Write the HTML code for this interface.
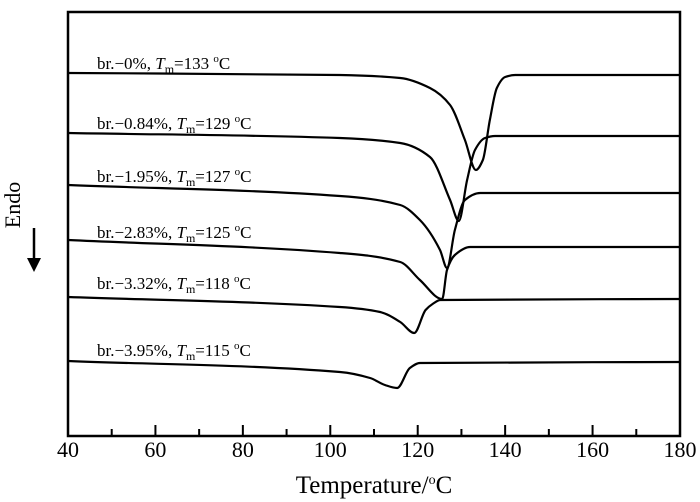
<!DOCTYPE html>
<html><head><meta charset="utf-8"><style>
body{margin:0;background:#fff;}
svg{display:block;font-family:"Liberation Serif",serif;}
</style></head><body>
<svg id="chart" width="700" height="502" viewBox="0 0 700 502">
<rect x="68" y="12" width="612" height="424" fill="none" stroke="#000" stroke-width="2.5"/>
<g id="ticks"></g>
<g id="curves"></g>
<text x="374" y="493" font-size="25" text-anchor="middle">Temperature/<tspan dy="-9" font-size="14">o</tspan><tspan dy="9">C</tspan></text>
<text transform="translate(20,205) rotate(-90)" font-size="22" text-anchor="middle">Endo</text>
<g>
<line x1="34" y1="228" x2="34" y2="262" stroke="#000" stroke-width="2.5"/>
<polygon points="27,258 41,258 34,272" fill="#000"/>
</g>
</svg>
<script>
const xTicks=[40,60,80,100,120,140,160,180];
const minorTicks=[50,70,90,110,130,150,170];
const labels=["br.\u22120%","br.\u22120.84%","br.\u22121.95%","br.\u22122.83%","br.\u22123.32%","br.\u22123.95%"];
const tmValues=[133,129,127,125,118,115];
const T1=[40,102.2,116,122.8,127.4,130.8,133.3,134.9,136.5,138.1,140,142.3,180];
const V1=[36.3,36.1,35.8,34.8,33.1,29.6,26.6,27.6,31.6,34.8,35.9,36.1,36.1];
const T2=[40,102.2,116,122.8,127.4,129.4,131.3,133.1,135.4,137.7,180];
const V2=[30.3,29.8,29.3,27.9,23.6,21.5,25.6,28.6,29.8,30.0,30.0];
const T3=[40,102.2,116,120.5,125.1,126.7,128.5,130.8,134.3,180];
const V3=[25.1,24.0,23.1,21.6,18.6,16.8,20.6,23.6,24.3,24.3];
const T4=[40,102.2,116,120.5,125.6,126.7,128.5,132,180];
const V4=[19.6,18.3,17.4,15.6,13.7,16.6,18.1,18.9,18.9];
const T5=[40,102.2,111.4,116,119.2,121.8,123.4,125.2,180];
const V5=[13.9,12.9,12.4,11.4,10.3,12.6,13.2,13.6,13.7];
const T6=[40,102.2,109.1,112.5,115.3,118.2,120.5,180];
const V6=[7.5,6.4,5.8,5.1,4.8,6.8,7.3,7.4];
const labelLevels=[36.7,30.7,25.4,19.8,14.7,8.0];

const NS="http://www.w3.org/2000/svg";
const xS=t=>68+(t-40)*612/140;
const yS=v=>436-v*10;
const tg=document.getElementById('ticks');
xTicks.forEach(t=>{
  const l=document.createElementNS(NS,'line');
  
  
  l.setAttribute('x1',xS(t));l.setAttribute('x2',xS(t));l.setAttribute('y1',436);l.setAttribute('y2',425);
  l.setAttribute('stroke','#000');l.setAttribute('stroke-width','2');tg.appendChild(l);
  const tx=document.createElementNS(NS,'text');
  
  
  tx.setAttribute('x',xS(t));tx.setAttribute('y',457);tx.setAttribute('font-size','22');tx.setAttribute('text-anchor','middle');
  tx.textContent=t;tg.appendChild(tx);
});
minorTicks.forEach(t=>{
  const l=document.createElementNS(NS,'line');
  
  
  l.setAttribute('x1',xS(t));l.setAttribute('x2',xS(t));l.setAttribute('y1',436);l.setAttribute('y2',429);
  l.setAttribute('stroke','#000');l.setAttribute('stroke-width','2');tg.appendChild(l);
});
function pathFrom(T,V){
  const x=T.map(xS), y=V.map(yS), n=x.length;
  const d=[],m=new Array(n);
  for(let i=0;i<n-1;i++) d.push((y[i+1]-y[i])/(x[i+1]-x[i]));
  m[0]=d[0]; m[n-1]=d[n-2];
  for(let i=1;i<n-1;i++){
    if(d[i-1]*d[i]<=0) m[i]=0;
    else { const w1=2*(x[i+1]-x[i])+(x[i]-x[i-1]), w2=(x[i+1]-x[i])+2*(x[i]-x[i-1]);
      m[i]=(w1+w2)/(w1/d[i-1]+w2/d[i]); }
  }
  let s='M'+x[0]+','+y[0];
  for(let i=0;i<n-1;i++){
    const h=(x[i+1]-x[i])/3;
    s+=` C${x[i]+h},${y[i]+m[i]*h} ${x[i+1]-h},${y[i+1]-m[i+1]*h} ${x[i+1]},${y[i+1]}`;
  }
  return s;
}
const cg=document.getElementById('curves');
const series=[[T1,V1],[T2,V2],[T3,V3],[T4,V4],[T5,V5],[T6,V6]];
series.forEach((s,i)=>{
  const pa=document.createElementNS(NS,'path');
  
  
  pa.setAttribute('d',pathFrom(s[0],s[1]));
  pa.setAttribute('fill','none');pa.setAttribute('stroke','#000');pa.setAttribute('stroke-width','2.2');
  pa.setAttribute('stroke-linejoin','round');
  cg.appendChild(pa);
  const tx=document.createElementNS(NS,'text');
  
  
  tx.setAttribute('x',97);tx.setAttribute('y',yS(labelLevels[i]));tx.setAttribute('font-size','17');
  tx.innerHTML=labels[i]+', <tspan font-style="italic">T</tspan><tspan font-size="12" dy="4">m</tspan><tspan dy="-4">='+tmValues[i]+' </tspan><tspan font-size="11" dy="-7">o</tspan><tspan dy="7">C</tspan>';
  cg.appendChild(tx);
});
</script>
</body></html>
